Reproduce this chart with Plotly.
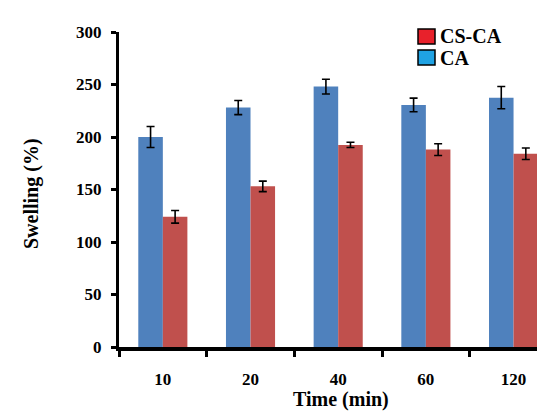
import plotly.graph_objects as go

categories = ["10", "20", "40", "60", "120"]
ca_values = [200, 228, 248, 230.5, 237.5]
ca_errors = [10, 6.7, 7, 6.5, 10.6]
csca_values = [124, 153, 192.5, 188, 184]
csca_errors = [6, 5, 2.5, 5.6, 5.5]
legend_names = ["CS-CA", "CA"]
y_ticks = [0, 50, 100, 150, 200, 250, 300]

W, H = 545, 412
L, R, T, B = 111, 545, 24, 339


def px(x):
    return (x - L) / (R - L)


def py(y):
    return (B - y) / (B - T)


fig = go.Figure()
fig.add_trace(go.Bar(
    x=categories, y=ca_values, name="CA", marker=dict(color="#4F81BD", line=dict(width=0)),
    error_y=dict(type="data", array=ca_errors, color="black", thickness=1.6, width=4),
    showlegend=False,
))
fig.add_trace(go.Bar(
    x=categories, y=csca_values, name="CS-CA", marker=dict(color="#C0504D", line=dict(width=0)),
    error_y=dict(type="data", array=csca_errors, color="black", thickness=1.6, width=4),
    showlegend=False,
))

tick_font = dict(family="Liberation Serif", size=17, color="black", weight="bold")
title_font = dict(family="Liberation Serif", size=20, color="black", weight="bold")

fig.update_layout(
    width=W, height=H,
    margin=dict(l=L, r=W - R, t=T, b=H - B),
    paper_bgcolor="white", plot_bgcolor="white",
    barmode="group", bargap=0.44, bargroupgap=0,
    showlegend=False,
)
fig.update_xaxes(
    type="category", range=[-0.5, 4.45],
    showline=True, linecolor="black", linewidth=3.5,
    ticks="outside", tickson="boundaries", ticklen=6, tickwidth=3, tickcolor="black",
    tickfont=tick_font, ticklabelstandoff=14, showgrid=False, zeroline=False,
)
fig.update_yaxes(
    range=[0, 300], tickvals=y_ticks,
    showline=True, linecolor="black", linewidth=3,
    ticks="outside", ticklen=5, tickwidth=3, tickcolor="black",
    tickfont=tick_font, ticklabelstandoff=6, showgrid=False, zeroline=False,
)

# axis titles
fig.add_annotation(text="Swelling (%)", xref="paper", yref="paper", x=px(24), y=py(186),
                   textangle=-90, showarrow=False, font=title_font, xanchor="center", yanchor="middle")
fig.add_annotation(text="Time (min)", xref="paper", yref="paper", x=px(333), y=py(405),
                   showarrow=False, font=title_font, xanchor="center", yanchor="bottom")

# legend
legend_colors = ["#E8212B", "#1FA2E3"]
legend_rows = [(21, 36, 28.5), (42, 57, 49.5)]
for name, col, (y0, y1, yc) in zip(legend_names, legend_colors, legend_rows):
    fig.add_shape(type="rect", xref="paper", yref="paper", x0=px(410), x1=px(427), y0=py(y1), y1=py(y0),
                  fillcolor=col, line=dict(color="black", width=1.5))
    fig.add_annotation(text=name, xref="paper", yref="paper", x=px(430), y=py(yc), showarrow=False,
                       font=title_font, xanchor="left", yanchor="middle")

fig.write_html("out.html")
